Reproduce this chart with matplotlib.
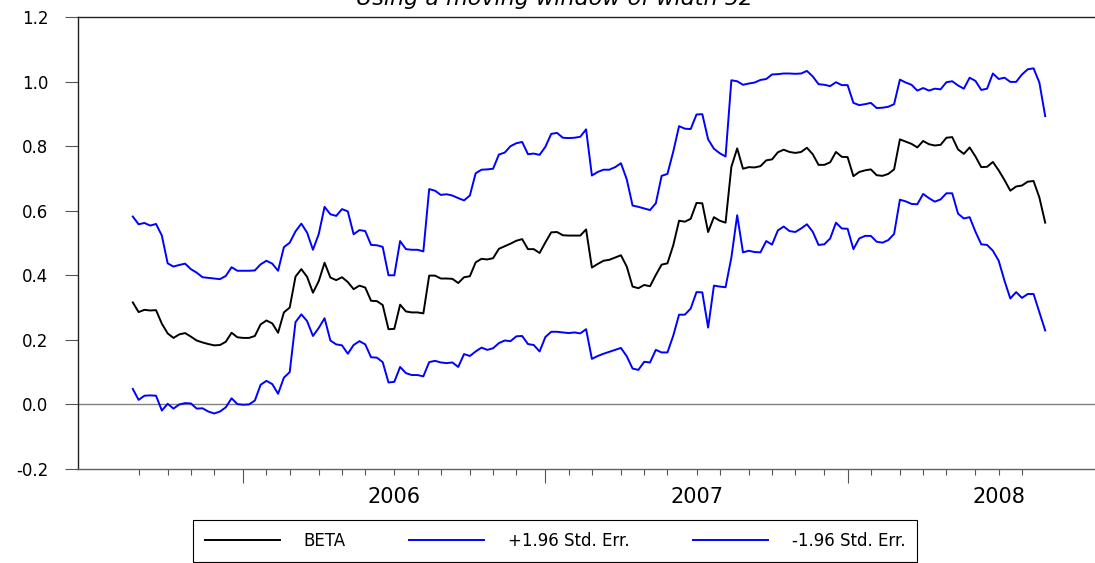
import matplotlib.pyplot as plt
import numpy as np
import pandas as pd
from matplotlib.ticker import FormatStrFormatter

plt.rcParams['font.family'] = 'DejaVu Sans'
plt.rcParams['axes.unicode_minus'] = False

# weekly observations, first one on this date
start_date = '2005-08-26'

beta = [
    0.316, 0.286, 0.293, 0.291, 0.292, 0.250, 0.220, 0.206, 0.217, 0.221,
    0.210, 0.198, 0.192, 0.187, 0.183, 0.184, 0.194, 0.222, 0.208, 0.206,
    0.206, 0.212, 0.248, 0.260, 0.251, 0.222, 0.285, 0.300, 0.396, 0.419,
    0.395, 0.346, 0.382, 0.439, 0.393, 0.385, 0.394, 0.379, 0.357, 0.368,
    0.362, 0.321, 0.320, 0.308, 0.233, 0.234, 0.309, 0.288, 0.285, 0.285,
    0.282, 0.399, 0.399, 0.390, 0.390, 0.389, 0.376, 0.394, 0.397, 0.440,
    0.451, 0.449, 0.453, 0.482, 0.490, 0.498, 0.507, 0.512, 0.481, 0.481,
    0.469, 0.502, 0.533, 0.534, 0.524, 0.523, 0.523, 0.523, 0.542, 0.424,
    0.435, 0.445, 0.448, 0.455, 0.462, 0.427, 0.365, 0.360, 0.370, 0.366,
    0.401, 0.433, 0.437, 0.493, 0.569, 0.566, 0.575, 0.624, 0.623, 0.534,
    0.580, 0.569, 0.563, 0.736, 0.793, 0.730, 0.735, 0.734, 0.738, 0.756,
    0.759, 0.781, 0.789, 0.782, 0.779, 0.782, 0.795, 0.775, 0.742, 0.742,
    0.750, 0.782, 0.767, 0.766, 0.707, 0.720, 0.725, 0.728, 0.710, 0.708,
    0.714, 0.728, 0.821, 0.814, 0.807, 0.796, 0.816, 0.806, 0.802, 0.804,
    0.826, 0.828, 0.790, 0.776, 0.796, 0.768, 0.735, 0.736, 0.751, 0.725,
    0.695, 0.662, 0.675, 0.678, 0.690, 0.692, 0.641, 0.563,
]

upper = [
    0.582, 0.558, 0.562, 0.554, 0.559, 0.523, 0.437, 0.427, 0.432, 0.436,
    0.419, 0.408, 0.394, 0.392, 0.390, 0.388, 0.398, 0.425, 0.414, 0.414,
    0.414, 0.415, 0.434, 0.445, 0.436, 0.414, 0.487, 0.501, 0.536, 0.560,
    0.532, 0.479, 0.528, 0.612, 0.589, 0.584, 0.605, 0.598, 0.527, 0.540,
    0.537, 0.494, 0.493, 0.488, 0.400, 0.400, 0.506, 0.481, 0.479, 0.479,
    0.474, 0.667, 0.662, 0.649, 0.651, 0.647, 0.639, 0.632, 0.647, 0.716,
    0.727, 0.728, 0.730, 0.774, 0.780, 0.800, 0.809, 0.813, 0.775, 0.777,
    0.773, 0.798, 0.838, 0.841, 0.826, 0.825, 0.826, 0.829, 0.852, 0.709,
    0.720, 0.727, 0.727, 0.735, 0.747, 0.697, 0.616, 0.612, 0.607, 0.602,
    0.623, 0.708, 0.714, 0.783, 0.862, 0.854, 0.853, 0.898, 0.899, 0.821,
    0.792, 0.778, 0.768, 1.004, 1.001, 0.990, 0.994, 0.997, 1.005, 1.008,
    1.022, 1.023, 1.025, 1.025, 1.024, 1.025, 1.033, 1.016, 0.992, 0.990,
    0.986, 0.998, 0.989, 0.989, 0.934, 0.927, 0.930, 0.934, 0.918, 0.919,
    0.922, 0.930, 1.006, 0.997, 0.990, 0.972, 0.980, 0.972, 0.978, 0.976,
    0.998, 1.001, 0.988, 0.978, 1.012, 1.002, 0.974, 0.978, 1.025, 1.008,
    1.012, 0.999, 0.999, 1.022, 1.038, 1.041, 0.997, 0.893,
]

lower = [
    0.048, 0.014, 0.027, 0.028, 0.027, -0.019, 0.002, -0.013, 0.000, 0.004,
    0.003, -0.013, -0.012, -0.022, -0.028, -0.022, -0.009, 0.019, 0.001, -0.001,
    0.000, 0.012, 0.061, 0.073, 0.063, 0.033, 0.083, 0.100, 0.255, 0.279,
    0.258, 0.212, 0.237, 0.267, 0.198, 0.186, 0.183, 0.157, 0.184, 0.196,
    0.186, 0.146, 0.145, 0.131, 0.068, 0.070, 0.116, 0.097, 0.091, 0.091,
    0.087, 0.131, 0.135, 0.130, 0.128, 0.130, 0.116, 0.156, 0.150, 0.164,
    0.176, 0.169, 0.174, 0.190, 0.198, 0.196, 0.211, 0.212, 0.187, 0.184,
    0.164, 0.209, 0.225, 0.225, 0.223, 0.221, 0.223, 0.220, 0.233, 0.141,
    0.150, 0.157, 0.163, 0.169, 0.175, 0.149, 0.111, 0.107, 0.132, 0.130,
    0.169, 0.161, 0.161, 0.213, 0.278, 0.278, 0.297, 0.348, 0.347, 0.238,
    0.368, 0.365, 0.363, 0.455, 0.586, 0.471, 0.476, 0.472, 0.471, 0.506,
    0.495, 0.539, 0.551, 0.537, 0.534, 0.545, 0.558, 0.535, 0.494, 0.496,
    0.514, 0.563, 0.545, 0.544, 0.481, 0.514, 0.522, 0.522, 0.504, 0.501,
    0.509, 0.528, 0.634, 0.629, 0.621, 0.620, 0.652, 0.639, 0.628, 0.635,
    0.654, 0.654, 0.591, 0.576, 0.580, 0.535, 0.496, 0.494, 0.476, 0.445,
    0.383, 0.328, 0.348, 0.330, 0.342, 0.342, 0.285, 0.229,
]

series_labels = ['BETA', '+1.96 Std. Err.', '-1.96 Std. Err.']
title = 'Using a moving window of width 52'

dates = pd.date_range(start_date, periods=len(beta), freq='7D')

fig = plt.figure(figsize=(10.95, 5.63), dpi=100)
ax = fig.add_axes([78 / 1095, 1 - 469 / 563, 1017 / 1095, 452 / 563])

ax.axhline(0, color='#808080', lw=1.0, zorder=1)
l1, = ax.plot(dates, beta, color='black', lw=1.4)
l2, = ax.plot(dates, upper, color='#0000ff', lw=1.4)
l3, = ax.plot(dates, lower, color='#0000ff', lw=1.4)

# y axis
ax.set_ylim(-0.2, 1.2)
ax.set_yticks(np.arange(-0.2, 1.21, 0.2))
ax.yaxis.set_major_formatter(FormatStrFormatter('%.1f'))
ax.tick_params(axis='y', direction='out', length=9.4, width=0.8,
               color='#555555', pad=12, labelsize=12)

# x axis: tick at first observation of each month, long tick for January
ax.set_xlim(dates[0] - pd.Timedelta(days=66), dates[0] + pd.Timedelta(days=1159))
firsts = pd.Series(dates).groupby([dates.year, dates.month]).first()
firsts = [d for d in firsts if d.day <= 7]
major = [d for d in firsts if d.month == 1]
minor = [d for d in firsts if d.month != 1]
ax.set_xticks(major)
ax.set_xticks(minor, minor=True)
ax.tick_params(axis='x', which='major', direction='out', length=10, width=0.8,
               color='#555555', labelbottom=False)
ax.tick_params(axis='x', which='minor', direction='out', length=4.3, width=0.8,
               color='#555555')

for d in major:
    ax.annotate(str(d.year), xy=(d + pd.Timedelta(days=182), 0),
                xycoords=('data', 'axes fraction'), xytext=(0, -20.2),
                textcoords='offset points', ha='center', va='center', fontsize=15)

ax.spines['right'].set_visible(False)
ax.spines['top'].set_color('#222222')
ax.spines['left'].set_color('#222222')
ax.spines['bottom'].set_color('#606060')
for s in ['top', 'left', 'bottom']:
    ax.spines[s].set_linewidth(1.0)

fig.text(555 / 1095, 1 - 5 / 563, title, ha='center', va='baseline',
         style='italic', fontsize=16)

leg = fig.legend([l1, l2, l3], series_labels, loc='center',
                 bbox_to_anchor=(193 / 1095, 1 - 562 / 563, 724 / 1095, 42 / 563),
                 mode='expand', ncol=3, fancybox=False, edgecolor='black',
                 framealpha=1, handlelength=4.5, handletextpad=1.4,
                 borderpad=0.7, borderaxespad=0, fontsize=12)
leg.get_frame().set_linewidth(0.8)

fig.savefig('out.png', dpi=100)
